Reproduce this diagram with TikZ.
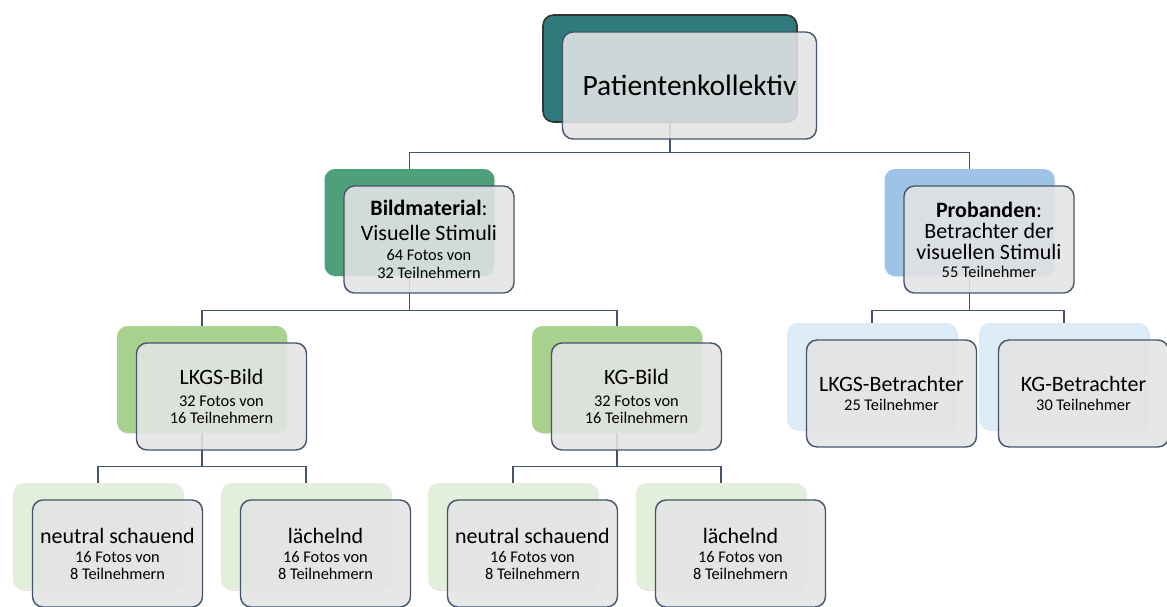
\documentclass[tikz,border=0pt]{standalone}
\usepackage{fontspec}
\setmainfont{Carlito}
\usetikzlibrary{positioning,backgrounds,shadows}

\definecolor{tealdunkel}{HTML}{2F7A7D}
\definecolor{gruen1}{HTML}{4EA07A}
\definecolor{gruen2}{HTML}{A9D18E}
\definecolor{gruen3}{HTML}{E2EFDA}
\definecolor{blau1}{HTML}{9DC3E6}
\definecolor{blau3}{HTML}{DDEBF7}
\definecolor{rahmen}{HTML}{44546A}
\definecolor{grau}{HTML}{E4E4E4}

\newcommand{\klein}{\fontsize{9.3}{10.5}\selectfont}

\tikzset{
  hinten/.style={rounded corners=6pt, minimum width=3.4cm, minimum height=2.14cm,
    drop shadow={opacity=0.2, shadow xshift=0.6pt, shadow yshift=-0.6pt}},
  vorne/.style={rounded corners=6pt, minimum width=3.4cm, minimum height=2.14cm,
    draw=rahmen, line width=0.8pt, fill=grau, fill opacity=0.88, text opacity=1,
    align=center, xshift=0.39cm, yshift=-0.34cm, font=\fontsize{12.5}{13.2}\selectfont},
  linie/.style={draw=rahmen, line width=0.8pt},
}

\begin{document}
\begin{tikzpicture}[x=0.02cm, y=-0.02cm]
\useasboundingbox (0,0) rectangle (1167,606);

% oberste Ebene
\node[hinten, fill=tealdunkel, draw=black!80, line width=0.9pt, minimum width=5.08cm] (pkH) at (670,68.5) {};
\node[vorne, minimum width=5.08cm, font=\fontsize{16.8}{18}\selectfont] (pk) at (pkH) {Patientenkollektiv};

% zweite Ebene
\node[hinten, fill=gruen1] (bmH) at (409.5,222.5) {};
\node[vorne] (bm) at (bmH) {\textbf{Bildmaterial}:\\[1pt]Visuelle Stimuli\\[-2pt]\klein 64 Fotos von\\[-3pt]\klein 32 Teilnehmern};
\node[hinten, fill=blau1] (prH) at (969.5,222.5) {};
\node[vorne] (pr) at (prH) {\textbf{Probanden}:\\[-1.2pt]Betrachter der\\[-1.2pt]visuellen Stimuli\\[-3pt]\klein 55 Teilnehmer};

% dritte Ebene
\node[hinten, fill=gruen2] (lbH) at (202,379.5) {};
\node[vorne] (lb) at (lbH) {LKGS-Bild\\[-1pt]\klein 32 Fotos von\\[-3.5pt]\klein 16 Teilnehmern};
\node[hinten, fill=gruen2] (kbH) at (617,379.5) {};
\node[vorne] (kb) at (kbH) {KG-Bild\\[-1pt]\klein 32 Fotos von\\[-3.5pt]\klein 16 Teilnehmern};
\node[hinten, fill=blau3] (lbtH) at (872,376.5) {};
\node[vorne] (lbt) at (lbtH) {LKGS-Betrachter\\[-2.4pt]\klein 25 Teilnehmer};
\node[hinten, fill=blau3] (kbtH) at (1064,376.5) {};
\node[vorne] (kbt) at (kbtH) {KG-Betrachter\\[-2.4pt]\klein 30 Teilnehmer};

% unterste Ebene
\node[hinten, fill=gruen3] (lnH) at (98,536.5) {};
\node[vorne] (ln) at (lnH) {neutral schauend\\[-2.4pt]\klein 16 Fotos von\\[-3.5pt]\klein 8 Teilnehmern};
\node[hinten, fill=gruen3] (llH) at (306,536.5) {};
\node[vorne] (ll) at (llH) {lächelnd\\[-2.4pt]\klein 16 Fotos von\\[-3.5pt]\klein 8 Teilnehmern};
\node[hinten, fill=gruen3] (knH) at (513,536.5) {};
\node[vorne] (kn) at (knH) {neutral schauend\\[-2.4pt]\klein 16 Fotos von\\[-3.5pt]\klein 8 Teilnehmern};
\node[hinten, fill=gruen3] (klH) at (721,536.5) {};
\node[vorne] (kl) at (klH) {lächelnd\\[-2.4pt]\klein 16 Fotos von\\[-3.5pt]\klein 8 Teilnehmern};

% Verbindungen
\begin{pgfonlayer}{background}
\draw[linie] (pkH.south) -- ++(0,30) -| (bmH.north) (pkH.south) ++(0,30) -| (prH.north);
\draw[linie] (bmH.south) -- ++(0,34) -| (lbH.north) (bmH.south) ++(0,34) -| (kbH.north);
\draw[linie] (prH.south) -- ++(0,34) -| (lbtH.north) (prH.south) ++(0,34) -| (kbtH.north);
\draw[linie] (lbH.south) -- ++(0,33) -| (lnH.north) (lbH.south) ++(0,33) -| (llH.north);
\draw[linie] (kbH.south) -- ++(0,33) -| (knH.north) (kbH.south) ++(0,33) -| (klH.north);
\end{pgfonlayer}
\end{tikzpicture}
\end{document}
